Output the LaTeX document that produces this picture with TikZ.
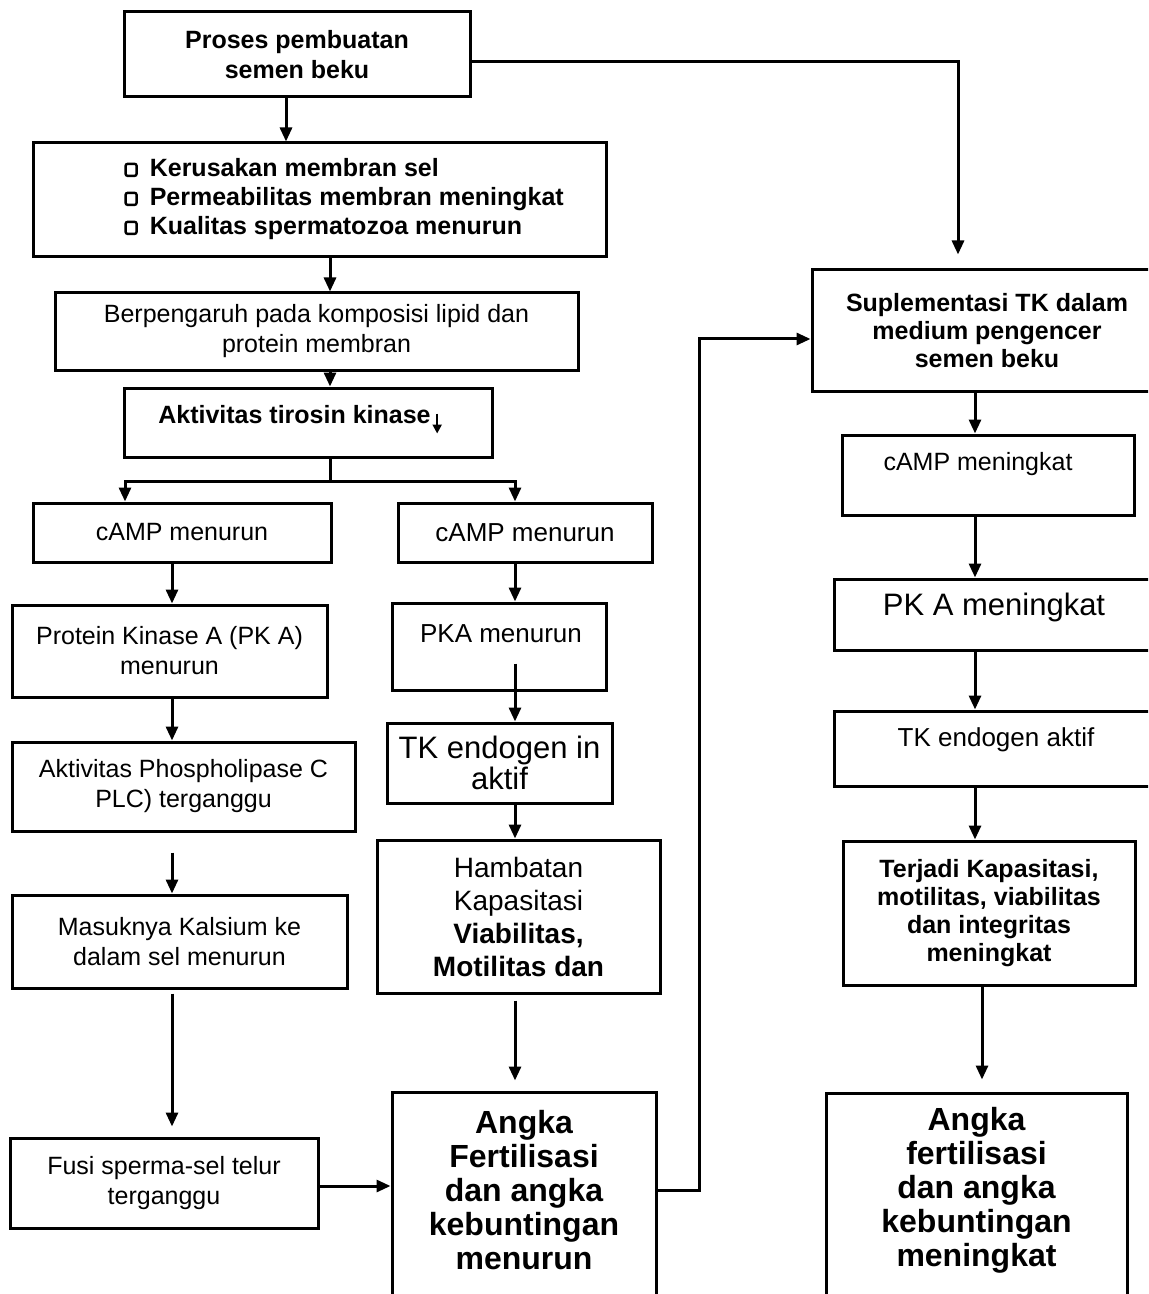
\documentclass[tikz,border=0pt]{standalone}
\usepackage{fontspec}
\setmainfont{Liberation Sans}
\usetikzlibrary{arrows.meta}

\newcommand\setfs[2]{\fontsize{#1}{#2}\selectfont}
% small hollow square used as list bullet
\newcommand\sqbul{\tikz[baseline=-0.3pt]\draw[line width=1.2pt,rounded corners=1pt](0,0) rectangle (5.5pt,6pt);}
% small downward arrow after a word
\newcommand\downmark{\tikz[baseline=0pt]\draw[line width=1.1pt,-{Triangle[length=4.5pt,width=4.5pt]}] (0,5pt) -- (0,-5pt);}
% vertical connector: from (#2.south shifted by #3) straight down to #4.north
\newcommand\vcon[4][]{\draw[arr,#1] ([xshift=#3]#2.south) coordinate (#2-out) -- (#2-out |- #4.north);}

\tikzset{
  box/.style={draw, line width=1.5pt, rectangle, inner sep=0pt, align=center,
              font=\setfs{12.5}{15}},
  bbox/.style={box, font=\bfseries\setfs{12.5}{15}},
  txt/.style={inner sep=0pt, align=center, font=\setfs{12.5}{15}},
  arr/.style={line width=1.5pt, -{Triangle[length=7pt,width=6pt]}},
  wire/.style={line width=1.5pt},
}

\begin{document}
\begin{tikzpicture}[x=0.5pt,y=-0.5pt]
\useasboundingbox (0,0) rectangle (1148,1294);
\clip (0,0) rectangle (1148,1294);
\fill[white] (0,0) rectangle (1148,1294);

% ---------- main column ----------
\node[bbox, minimum width=173pt, minimum height=42.5pt] (A) at (297,54.5)
  {Proses pembuatan\\semen beku};
\node[box, minimum width=286.5pt, minimum height=57pt] (B) at (319.5,200) {};
\node[txt, align=left, anchor=west, font=\bfseries\setfs{12.5}{14.5}] (Bt) at (124,199)
  {\sqbul\hspace{6pt}Kerusakan membran sel\\
   \sqbul\hspace{6pt}Permeabilitas membran meningkat\\
   \sqbul\hspace{6pt}Kualitas spermatozoa menurun};
\node[box, minimum width=261.5pt, minimum height=38.5pt] (C) at (316.5,331.5)
  {Berpengaruh pada komposisi lipid dan\\protein membran};
\node[box, minimum width=184pt, minimum height=34.5pt] (D) at (308,422.5) {};
\node[txt, font=\bfseries\setfs{12.5}{15}] (Dt) at (300,420)
  {Aktivitas tirosin kinase\hspace{1pt}\downmark};

% ---------- left branch ----------
\node[box, minimum width=149pt, minimum height=29.5pt] (E1) at (182,532.5) {cAMP menurun};
\node[box, minimum width=157.5pt, minimum height=46pt] (F1) at (169.5,651)
  {Protein Kinase A (PK A)\\menurun};
\node[box, minimum width=171.5pt, minimum height=44.5pt] (G1) at (183.5,786.5)
  {Aktivitas Phospholipase C\\PLC) terganggu};
\node[box, minimum width=167.5pt, minimum height=46.5pt] (H1) at (179.5,941.5)
  {Masuknya Kalsium ke\\dalam sel menurun};
\node[box, minimum width=154pt, minimum height=45pt] (I1) at (164,1183)
  {Fusi sperma-sel telur\\terganggu};

% ---------- middle branch ----------
\node[box, minimum width=127pt, minimum height=29.5pt, font=\setfs{13}{15}] (E2) at (525,532.5) {cAMP menurun};
\node[box, minimum width=107pt, minimum height=43.5pt] (F2) at (499,646.5) {};
\node[txt, font=\setfs{13}{15}] (F2t) at (501,634) {PKA menurun};
\node[box, minimum width=112.5pt, minimum height=40pt, font=\setfs{15.5}{15.5}] (G2) at (499.5,763)
  {TK endogen in\\aktif};
\node[box, minimum width=141.5pt, minimum height=76.5pt, font=\setfs{14}{16.5}] (H2) at (518.5,916.5)
  {Hambatan\\Kapasitasi\\\textbf{Viabilitas,}\\\textbf{Motilitas dan}};
\node[box, minimum width=132pt, minimum height=109pt] (J) at (524,1201) {};
\node[txt, font=\bfseries\setfs{16}{17}] (Jt) at (524,1190)
  {Angka\\Fertilisasi\\dan angka\\kebuntingan\\menurun};

% ---------- right column ----------
\node[bbox, minimum width=175pt, minimum height=60.5pt, font=\bfseries\setfs{12.5}{14}] (K) at (987,330.5)
  {Suplementasi TK dalam\\medium pengencer\\semen beku};
\node[box, minimum width=146pt, minimum height=40pt] (L) at (988,475) {};
\node[txt] (Lt) at (978,464) {cAMP meningkat};
\node[box, minimum width=164pt, minimum height=35.5pt] (M) at (998,614.5) {};
\node[txt, font=\setfs{15.5}{15.5}] (Mt) at (994,607) {PK A meningkat};
\node[box, minimum width=164pt, minimum height=37.5pt] (N) at (998,748.5) {};
\node[txt, font=\setfs{13}{15}] (Nt) at (996,740) {TK endogen aktif};
\node[bbox, minimum width=146pt, minimum height=72pt, font=\bfseries\setfs{12.5}{14}] (O) at (989,913)
  {Terjadi Kapasitasi,\\motilitas, viabilitas\\dan integritas\\meningkat};
\node[box, minimum width=150.5pt, minimum height=108.5pt] (P) at (976.5,1201.5) {};
\node[txt, font=\bfseries\setfs{16}{17}] (Pt) at (976.5,1190)
  {Angka\\fertilisasi\\dan angka\\kebuntingan\\meningkat};

% ---------- connectors ----------
\vcon{A}{-5.5pt}{B}
\vcon{B}{5.25pt}{C}
\vcon{C}{6.75pt}{D}

\draw[wire] ([xshift=11pt]D.south) coordinate (dout) -- ++(0,23) coordinate (split);
\coordinate (e1in) at ([xshift=-28.5pt]E1.north);
\coordinate (e2in) at ([xshift=-5pt]E2.north);
\draw[arr] (split) -| (e1in);
\draw[arr] (split) -| (e2in);

\vcon{E1}{-5pt}{F1}
\vcon{F1}{1.25pt}{G1}
\vcon[shorten <=10pt]{G1}{-5.75pt}{H1}
\vcon[shorten <=2pt, shorten >=5pt]{H1}{-3.75pt}{I1}
\draw[arr] ([yshift=-1.5pt]I1.east) coordinate (i1out) -- (i1out -| J.west);

\vcon{E2}{-5pt}{F2}
\vcon[shorten <=-14pt]{F2}{8pt}{G2}
\vcon{G2}{7.75pt}{H2}
\vcon[shorten <=3pt, shorten >=5pt]{H2}{-1.75pt}{J}

% frozen-semen process feeds the supplementation branch
\draw[arr, shorten >=7pt] ([yshift=-3.75pt]A.east) -| ([xshift=-14.5pt]K.north);
% loop from the reduced-fertility result back to the supplementation box
\draw[arr] ([yshift=5.5pt]J.east) -- ++(21pt,0) |- ([yshift=-4.25pt]K.west);

\vcon{K}{-6pt}{L}
\vcon{L}{-6.5pt}{M}
\vcon{M}{-11.5pt}{N}
\vcon{N}{-11.5pt}{O}
\vcon[shorten >=6pt]{O}{-3.5pt}{P}
\end{tikzpicture}
\end{document}
